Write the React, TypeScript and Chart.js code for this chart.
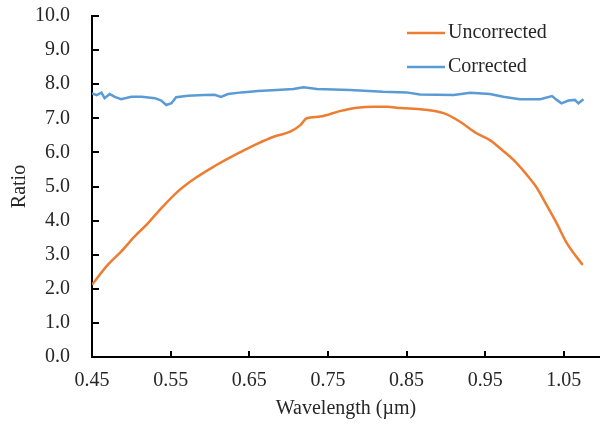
import React, { useEffect, useRef } from "react";
import { Chart, registerables } from "chart.js";

Chart.register(...registerables);

const wavelengthTicks = [0.45, 0.55, 0.65, 0.75, 0.85, 0.95, 1.05];

const uncorrectedX = [0.45, 0.47, 0.487, 0.504, 0.521, 0.538, 0.559, 0.581, 0.606, 0.627, 0.647, 0.66, 0.681, 0.702, 0.715, 0.723, 0.74, 0.765, 0.787, 0.808, 0.825, 0.842, 0.871, 0.897, 0.918, 0.939, 0.956, 0.969, 0.986, 1.003, 1.016, 1.028, 1.041, 1.054, 1.074];
const uncorrectedY = [2.12, 2.7, 3.09, 3.53, 3.92, 4.36, 4.85, 5.24, 5.6, 5.87, 6.1, 6.25, 6.46, 6.61, 6.8, 7.0, 7.05, 7.21, 7.31, 7.34, 7.34, 7.3, 7.26, 7.15, 6.9, 6.56, 6.36, 6.12, 5.78, 5.34, 4.95, 4.46, 3.92, 3.33, 2.7];

const correctedX = [0.45, 0.456, 0.462, 0.466, 0.4725, 0.479, 0.487, 0.5, 0.513, 0.53, 0.538, 0.5445, 0.551, 0.557, 0.572, 0.593, 0.606, 0.614, 0.623, 0.64, 0.651, 0.661, 0.685, 0.706, 0.719, 0.736, 0.778, 0.82, 0.85, 0.867, 0.91, 0.931, 0.956, 0.973, 0.994, 1.02, 1.035, 1.041, 1.047, 1.056, 1.064, 1.0685, 1.075];
const correctedY = [7.73, 7.68, 7.75, 7.59, 7.71, 7.63, 7.56, 7.63, 7.63, 7.59, 7.52, 7.39, 7.44, 7.62, 7.66, 7.68, 7.69, 7.63, 7.71, 7.76, 7.78, 7.8, 7.83, 7.86, 7.91, 7.86, 7.83, 7.78, 7.76, 7.7, 7.68, 7.75, 7.71, 7.63, 7.56, 7.56, 7.65, 7.54, 7.44, 7.52, 7.54, 7.44, 7.56];

const seriesLabels = ["Uncorrected", "Corrected"];
const seriesColors = ["#ED7D31", "#5B9BD5"];

const FONT_FAMILY = "'Liberation Serif', 'Times New Roman', serif";
const TEXT_COLOR = "#262626";

const innerTicks = {
  id: "innerTicks",
  afterDatasetsDraw(chart: any) {
    const { ctx, chartArea, scales } = chart;
    ctx.save();
    ctx.strokeStyle = "#000";
    ctx.lineWidth = 2;
    ctx.beginPath();
    for (const t of scales.x.ticks) {
      const px = Math.round(scales.x.getPixelForValue(t.value));
      ctx.moveTo(px, chartArea.bottom);
      ctx.lineTo(px, chartArea.bottom - 6);
    }
    for (const t of scales.y.ticks) {
      const py = Math.round(scales.y.getPixelForValue(t.value));
      ctx.moveTo(chartArea.left, py);
      ctx.lineTo(chartArea.left + 7, py);
    }
    ctx.stroke();
    ctx.restore();
  },
};

const customLegend = {
  id: "customLegend",
  afterDraw(chart: any) {
    const { ctx } = chart;
    ctx.save();
    ctx.font = `20px ${FONT_FAMILY}`;
    ctx.textBaseline = "middle";
    ctx.fillStyle = TEXT_COLOR;
    chart.data.datasets.forEach((ds: any, i: number) => {
      const y = 33 + i * 34;
      ctx.strokeStyle = ds.borderColor;
      ctx.lineWidth = 2.5;
      ctx.beginPath();
      ctx.moveTo(407, y);
      ctx.lineTo(445, y);
      ctx.stroke();
      ctx.fillText(ds.label, 448, y);
    });
    ctx.restore();
  },
};

export default function App() {
  const ref = useRef<HTMLCanvasElement>(null);
  useEffect(() => {
    document.body.style.margin = "0";
    const font = { family: FONT_FAMILY, size: 20 };
    const chart = new Chart(ref.current as HTMLCanvasElement, {
      type: "line",
      data: {
        datasets: [
          {
            label: seriesLabels[0],
            data: uncorrectedX.map((x, i) => ({ x, y: uncorrectedY[i] })),
            borderColor: seriesColors[0],
            borderWidth: 2.5,
            pointRadius: 0,
            cubicInterpolationMode: "monotone",
          },
          {
            label: seriesLabels[1],
            data: correctedX.map((x, i) => ({ x, y: correctedY[i] })),
            borderColor: seriesColors[1],
            borderWidth: 2.5,
            pointRadius: 0,
            tension: 0,
          },
        ],
      },
      options: {
        animation: false,
        responsive: false,
        layout: { padding: { top: 0, right: 0, bottom: 0, left: 0 } },
        plugins: { legend: { display: false }, tooltip: { enabled: false } },
        scales: {
          x: {
            type: "linear",
            min: 0.45,
            max: 1.096,
            afterBuildTicks: (s: any) => {
              s.ticks = wavelengthTicks.map((v) => ({ value: v }));
            },
            afterFit: (s: any) => {
              s.height = 67;
              s.paddingLeft = 0;
              s.paddingRight = 0;
            },
            ticks: {
              font,
              color: TEXT_COLOR,
              padding: 12,
              maxRotation: 0,
              autoSkip: false,
              callback: (v: any) => Number(v).toFixed(2),
            },
            grid: { display: false, drawTicks: false },
            border: { color: "#000", width: 2 },
            title: {
              display: true,
              text: "Wavelength (µm)",
              font,
              color: TEXT_COLOR,
              padding: { top: 0, bottom: 3 },
            },
          },
          y: {
            min: 0,
            max: 10,
            afterFit: (s: any) => {
              s.width = 92;
              s.paddingTop = 16;
              s.paddingBottom = 0;
            },
            ticks: {
              stepSize: 1,
              font,
              color: TEXT_COLOR,
              padding: 22,
              callback: (v: any) => Number(v).toFixed(1),
            },
            grid: { display: false, drawTicks: false },
            border: { color: "#000", width: 2 },
            title: {
              display: true,
              text: "Ratio",
              font,
              color: TEXT_COLOR,
              padding: { top: 8, bottom: 0 },
            },
          },
        },
      },
      plugins: [innerTicks, customLegend],
    } as any);
    return () => chart.destroy();
  }, []);
  return <canvas ref={ref} width={600} height={424} style={{ display: "block" }} />;
}
